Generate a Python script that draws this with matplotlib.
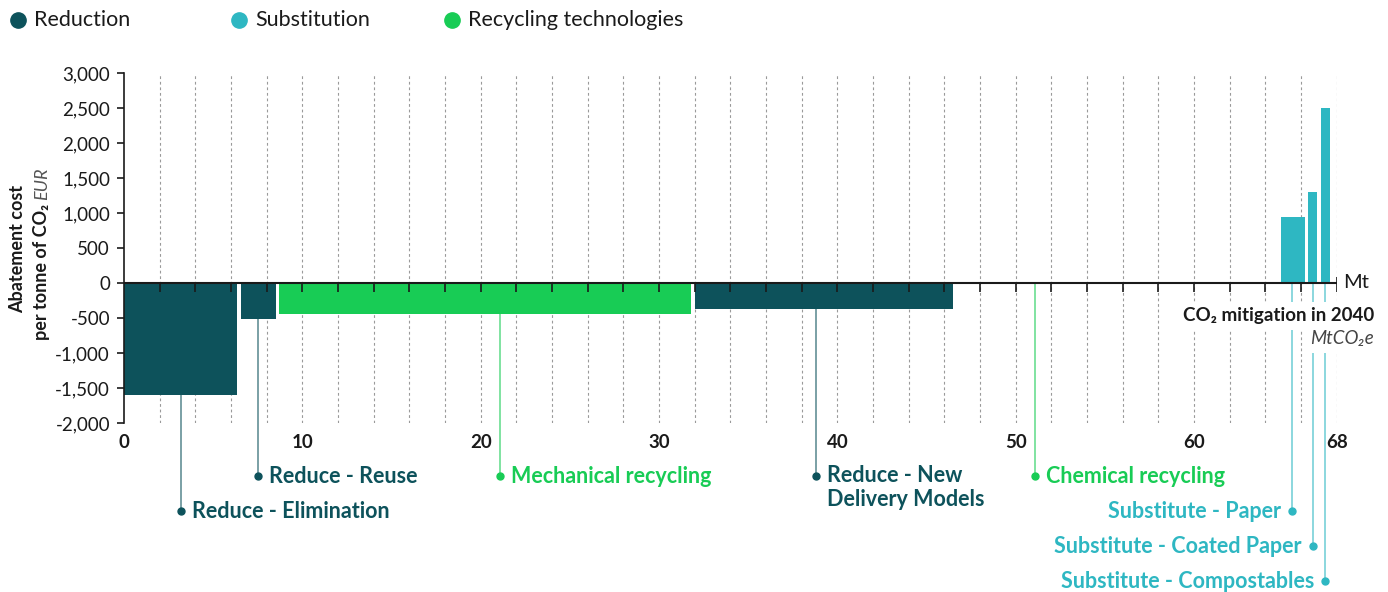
"""Marginal abatement cost curve for packaging measures, CO2 mitigation in 2040."""

import matplotlib

matplotlib.use("Agg")
import matplotlib.pyplot as plt
from matplotlib.lines import Line2D
from matplotlib.ticker import FuncFormatter

plt.rcParams["font.family"] = ["Lato", "DejaVu Sans"]

# --- data ------------------------------------------------------------------
measures = [
    "Reduce - Elimination",
    "Reduce - Reuse",
    "Mechanical recycling",
    "Reduce - New\nDelivery Models",
    "Chemical recycling",
    "Substitute - Paper",
    "Substitute - Coated Paper",
    "Substitute - Compostables",
]
groups = [
    "Reduction",
    "Reduction",
    "Recycling technologies",
    "Reduction",
    "Recycling technologies",
    "Substitution",
    "Substitution",
    "Substitution",
]
mitigation_mt = [6.55, 2.15, 23.3, 14.7, 18.15, 1.55, 0.7, 0.7]
cost_eur = [-1600, -510, -440, -370, 0, 950, 1300, 2500]
label_at_mt = [3.2, 7.5, 21.1, 38.8, 51.1, 65.5, 66.65, 67.35]

legend_order = ["Reduction", "Substitution", "Recycling technologies"]
colors = {
    "Reduction": "#0d525b",
    "Substitution": "#2eb7c2",
    "Recycling technologies": "#18cc55",
}
x_ticks = [0, 10, 20, 30, 40, 50, 60, 68]
y_ticks = list(range(-2000, 3001, 500))

# --- layout ------------------------------------------------------------------
W, H = 1388, 592
GAP = 0.2  # white gap between neighbouring bars, in Mt
label_row = [2, 1, 1, 1, 1, 2, 3, 4]
label_right_side = [False] * 5 + [True] * 3
ROW0_Y, ROW_STEP = -2760, 500

fig = plt.figure(figsize=(W / 100, H / 100), dpi=100)
ax = fig.add_axes([124 / W, 1 - 423 / H, (1336.7 - 124) / W, 350 / H])
ax.set_xlim(0, 68)
ax.set_ylim(-2000, 3000)

# dashed vertical grid every 2 Mt
grid_x = list(range(2, 69, 2))
ax.vlines(grid_x, -2000, 3000, colors="#9a9a9a", linestyles=(0, (2.5, 2.5)),
          lw=0.8, zorder=0)

# bars
lefts = []
pos = 0.0
for w in mitigation_mt:
    lefts.append(pos)
    pos += w
ax.bar(lefts, cost_eur, width=[w - GAP for w in mitigation_mt], align="edge",
       color=[colors[g] for g in groups], zorder=2)

# zero line with small ticks
ax.axhline(0, color="#1a1a1a", lw=1.5, zorder=4)
ax.vlines(grid_x[:-1], -130, 0, colors="#1a1a1a", lw=1.2, zorder=4)
ax.vlines([68], -130, 90, colors="#1a1a1a", lw=1.2, zorder=4)

# leaders and labels
for name, grp, cost, lx, row, right in zip(measures, groups, cost_eur, label_at_mt,
                                          label_row, label_right_side):
    col = colors[grp]
    y_end = ROW0_Y - ROW_STEP * (row - 1)
    ax.plot([lx, lx], [min(cost, 0), y_end], color=col, alpha=0.55, lw=1.4,
            clip_on=False, zorder=1, solid_capstyle="butt")
    ax.plot([lx], [y_end], "o", ms=5, color=col, clip_on=False, zorder=3)
    if "\n" in name:
        offset, va = (8, 8.0), "top"
    else:
        offset, va = ((-8, 0) if right else (8, 0)), "center"
    ax.annotate(name, (lx, y_end), xytext=offset, textcoords="offset points",
                ha="right" if right else "left", va=va, fontsize=15.5,
                weight="bold", color=col, annotation_clip=False,
                linespacing=1.15)

# axis annotations on the right
ax.text(68.35, 0, "Mt", ha="left", va="center", fontsize=14.5, color="#1a1a1a")
ax.text(70.1, -470, "CO\u2082 mitigation in 2040", ha="right", va="center",
        fontsize=13.5, weight="bold", color="#1a1a1a", zorder=6, clip_on=False,
        bbox=dict(facecolor="white", edgecolor="none", pad=4))
ax.text(70.1, -800, "MtCO\u2082e", ha="right", va="center", fontsize=13.5,
        style="italic", color="#444444", zorder=6, clip_on=False,
        bbox=dict(facecolor="white", edgecolor="none", pad=4))

# axes styling
for side in ("top", "right", "bottom"):
    ax.spines[side].set_visible(False)
ax.spines["left"].set_linewidth(1.2)
ax.spines["left"].set_color("#1a1a1a")
ax.set_yticks(y_ticks)
ax.yaxis.set_major_formatter(FuncFormatter(lambda v, _: f"{v:,.0f}"))
ax.tick_params(axis="y", length=5, width=1.2, pad=5, labelsize=13.5,
               colors="#1a1a1a")
ax.set_xticks(x_ticks)
ax.tick_params(axis="x", length=0, pad=8, labelsize=13.5, colors="#1a1a1a")
for lbl in ax.get_xticklabels():
    lbl.set_fontweight("bold")

# legend
for name, lx in zip(legend_order, [18, 239, 452]):
    fig.add_artist(Line2D([lx / W], [1 - 20 / H], marker="o", ms=11,
                          color=colors[name], transform=fig.transFigure))
    fig.text((lx + 16) / W, 1 - 20 / H, name, ha="left", va="center",
             fontsize=15.5, color="#1a1a1a")

# y label: two rotated lines, second one ends with an italic unit
fig.text(18 / W, 1 - 249 / H, "Abatement cost", rotation=90, ha="center",
         va="center", fontsize=13, weight="bold", color="#1a1a1a")
line2 = fig.text(42 / W, 1 - 340 / H, "per tonne of CO\u2082 ", rotation=90,
                 rotation_mode="anchor", ha="left", va="center", fontsize=13,
                 weight="bold", color="#1a1a1a")
fig.canvas.draw()
bb = line2.get_window_extent()
fig.text(42 / W, bb.y1 / H, "EUR", rotation=90, rotation_mode="anchor",
         ha="left", va="center", fontsize=13, style="italic", color="#555555")

fig.savefig("out.png", dpi=100)
